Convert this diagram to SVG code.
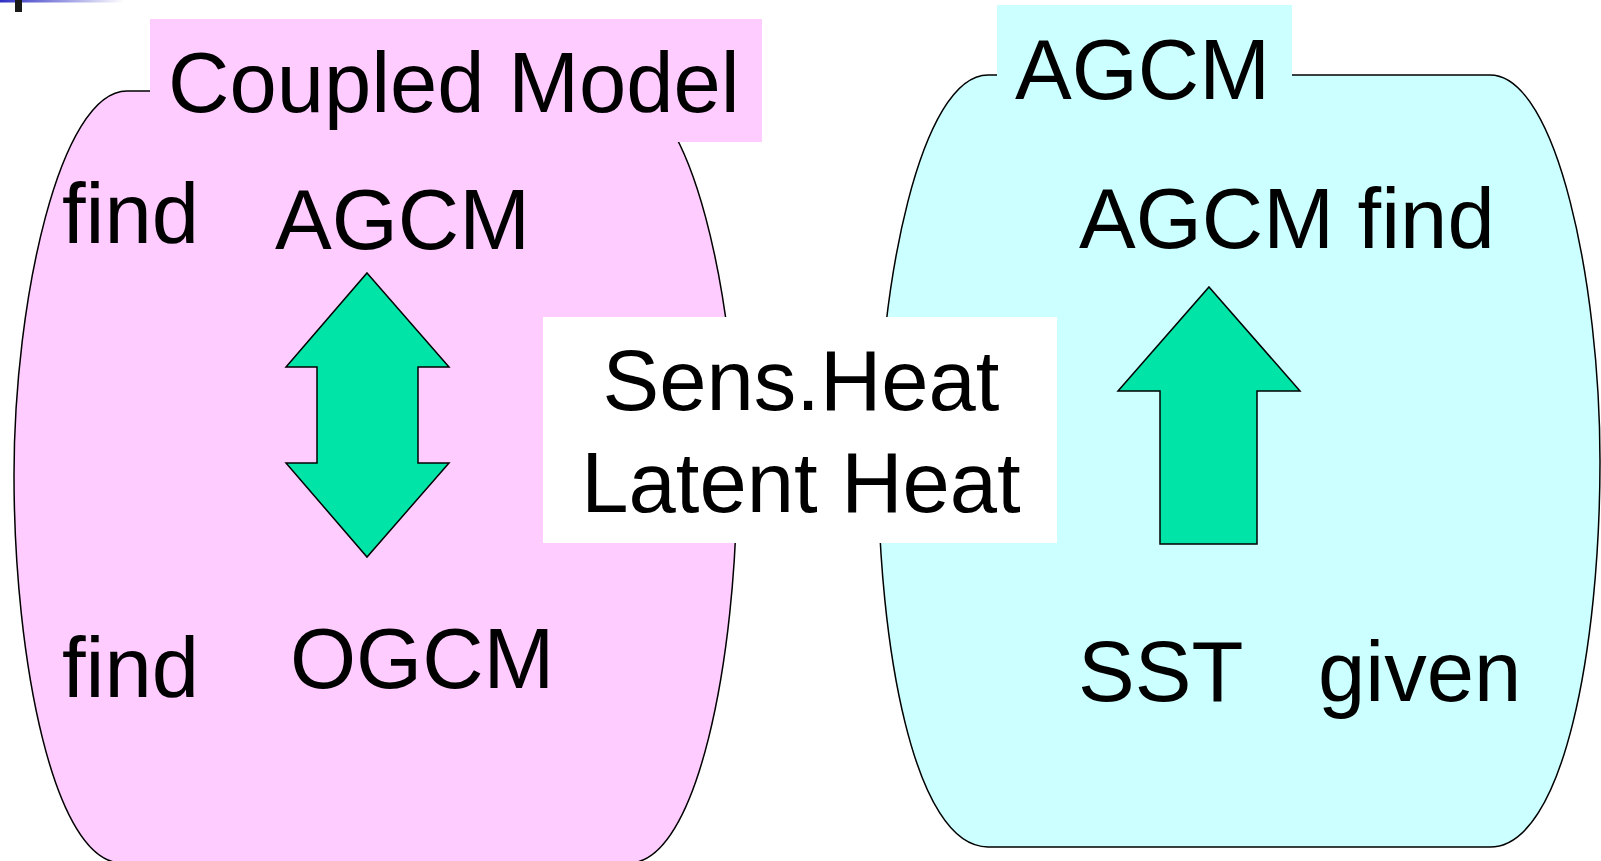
<svg xmlns="http://www.w3.org/2000/svg" width="1601" height="861" viewBox="0 0 1601 861">
<defs>
<linearGradient id="bar" x1="0" y1="0" x2="1" y2="0">
<stop offset="0" stop-color="#2f2fc4"/>
<stop offset="1" stop-color="#ffffff"/>
</linearGradient>
<style>
.t{font-family:"Liberation Sans",Arial,sans-serif;font-size:85px;fill:#000}
.blob{stroke:#000;stroke-width:1.5}
.arrow{fill:#00e4a8;stroke:#000;stroke-width:1.5;stroke-linejoin:miter}
</style>
</defs>
<rect width="1601" height="861" fill="#fff"/>
<g id="decor">
<rect x="0" y="0" width="124" height="2.5" fill="url(#bar)"/>
<rect x="15" y="0" width="7" height="12" fill="#1a1a1a"/>
</g>
<g id="coupled-model">
<path class="blob" fill="#ffccff" d="M127,91 H624 C691,91 737,300 737,475 C737,660 697,863 629,863 H122 C54,863 14,660 14,475 C14,300 60,91 127,91 Z"/>
<rect x="150" y="19" width="612" height="123" fill="#ffccff"/>
<text class="t" x="168" y="112">Coupled Model</text>
<text class="t" x="62" y="243">find</text>
<text class="t" x="275" y="249">AGCM</text>
<text class="t" x="62" y="697">find</text>
<text class="t" x="290" y="688">OGCM</text>
</g>
<g id="agcm">
<path class="blob" fill="#ccffff" d="M988,75 H1490 C1557,75 1600,284 1600,461 C1600,646 1564,847 1490,847 H988 C914,847 878,646 878,461 C878,284 921,75 988,75 Z"/>
<rect x="997" y="5" width="295" height="105" fill="#ccffff"/>
<text class="t" x="1015" y="99">AGCM</text>
<text class="t" x="1079" y="248">AGCM find</text>
<text class="t" x="1078" y="701">SST</text>
<text class="t" x="1318" y="701">given</text>
</g>
<g id="flux-label">
<rect x="543" y="317" width="514" height="226" fill="#fff"/>
<text class="t" x="801" y="410" text-anchor="middle">Sens.Heat</text>
<text class="t" x="801" y="512" text-anchor="middle">Latent Heat</text>
</g>
<g id="connectors">
<path class="arrow" d="M367,273 L449,367 L418,367 L418,463 L449,463 L367,557 L286,463 L317,463 L317,367 L286,367 Z"/>
<path class="arrow" d="M1209,287 L1300,391 L1257,391 L1257,544 L1160,544 L1160,391 L1118,391 Z"/>
</g>
</svg>
